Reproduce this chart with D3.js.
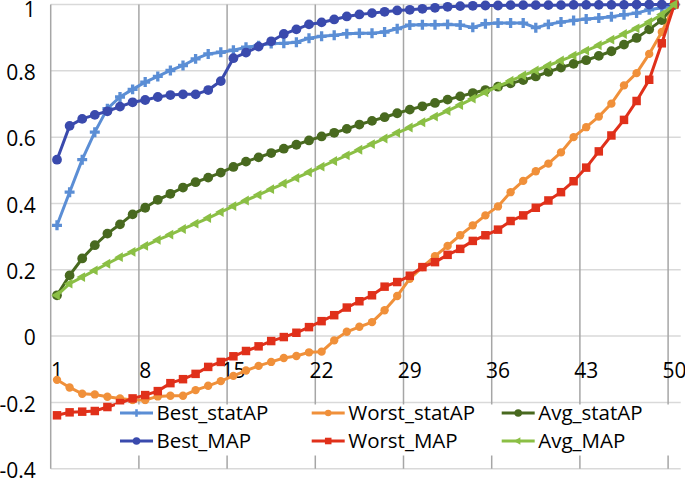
<!DOCTYPE html>
<html>
<head>
<meta charset="utf-8">
<script src="https://cdn.jsdelivr.net/npm/d3@7"></script>
<style>
  body { margin: 0; background: #fff; }
  svg { display: block; }
  text { font-family: 'Open Sans', sans-serif; fill: #000; }
</style>
</head>
<body>
<div id="chart"></div>
<script>
const width = 685;
const height = 478;

// categories 1..50, labelled every 7th
const categories = d3.range(1, 51);
const xTickLabels = [1, 8, 15, 22, 29, 36, 43, 50];
const yTickLabels = [-0.4, -0.2, 0, 0.2, 0.4, 0.6, 0.8, 1];

// values
const bestStatAP = [0.334, 0.434, 0.532, 0.615, 0.686, 0.721, 0.744, 0.766, 0.783, 0.801,
  0.816, 0.836, 0.851, 0.856, 0.862, 0.871, 0.876, 0.882, 0.883, 0.886,
  0.898, 0.904, 0.907, 0.912, 0.913, 0.913, 0.917, 0.927, 0.938, 0.939,
  0.939, 0.940, 0.938, 0.931, 0.942, 0.944, 0.944, 0.944, 0.930, 0.940,
  0.947, 0.952, 0.956, 0.959, 0.963, 0.969, 0.974, 0.984, 0.990, 1.0];
const bestMAP = [0.532, 0.634, 0.655, 0.667, 0.678, 0.692, 0.705, 0.712, 0.721, 0.727,
  0.729, 0.729, 0.742, 0.769, 0.838, 0.855, 0.873, 0.889, 0.911, 0.925,
  0.940, 0.946, 0.955, 0.964, 0.970, 0.974, 0.978, 0.982, 0.984, 0.987,
  0.990, 0.993, 0.995, 0.996, 0.997, 0.997, 0.998, 0.998, 0.998, 0.998,
  0.998, 0.999, 0.999, 0.999, 0.999, 0.999, 1.0, 1.0, 1.0, 1.0];
const worstStatAP = [-0.132, -0.155, -0.174, -0.176, -0.183, -0.188, -0.193, -0.193, -0.182, -0.180,
  -0.180, -0.163, -0.150, -0.136, -0.120, -0.104, -0.090, -0.078, -0.066, -0.060,
  -0.049, -0.047, -0.013, 0.013, 0.028, 0.042, 0.078, 0.121, 0.173, 0.208,
  0.241, 0.272, 0.304, 0.334, 0.364, 0.391, 0.434, 0.468, 0.497, 0.520,
  0.554, 0.600, 0.630, 0.662, 0.701, 0.756, 0.793, 0.851, 0.917, 1.0];
const worstMAP = [-0.239, -0.230, -0.228, -0.226, -0.214, -0.202, -0.188, -0.178, -0.166, -0.142,
  -0.130, -0.114, -0.093, -0.078, -0.061, -0.045, -0.031, -0.015, -0.003, 0.010,
  0.027, 0.045, 0.063, 0.086, 0.105, 0.123, 0.149, 0.163, 0.182, 0.208,
  0.223, 0.245, 0.263, 0.287, 0.304, 0.321, 0.347, 0.364, 0.387, 0.409,
  0.434, 0.467, 0.508, 0.557, 0.605, 0.652, 0.709, 0.773, 0.883, 1.0];
const avgStatAP = [0.123, 0.183, 0.234, 0.274, 0.309, 0.337, 0.367, 0.387, 0.411, 0.429,
  0.448, 0.464, 0.478, 0.493, 0.510, 0.526, 0.539, 0.552, 0.565, 0.577,
  0.590, 0.602, 0.613, 0.625, 0.638, 0.649, 0.660, 0.672, 0.683, 0.693,
  0.703, 0.713, 0.723, 0.733, 0.742, 0.752, 0.762, 0.772, 0.783, 0.797,
  0.810, 0.821, 0.832, 0.845, 0.859, 0.879, 0.899, 0.925, 0.953, 1.0];
const avgMAP = [0.123, 0.158, 0.178, 0.198, 0.218, 0.238, 0.254, 0.272, 0.290, 0.306,
  0.323, 0.339, 0.356, 0.374, 0.392, 0.409, 0.426, 0.443, 0.460, 0.477,
  0.494, 0.511, 0.528, 0.545, 0.562, 0.579, 0.596, 0.613, 0.629, 0.645,
  0.662, 0.679, 0.697, 0.716, 0.735, 0.753, 0.770, 0.786, 0.801, 0.816,
  0.831, 0.846, 0.861, 0.877, 0.894, 0.911, 0.928, 0.947, 0.970, 1.0];

const series = [
  {title: 'Best_statAP', values: bestStatAP, color: '#5b8ed5', symbol: d3.symbolCross, size: 55},
  {title: 'Worst_statAP', values: worstStatAP, color: '#f0903a', symbol: d3.symbolCircle, size: 55},
  {title: 'Avg_statAP', values: avgStatAP, color: '#48691f', symbol: d3.symbolCircle, size: 75},
  {title: 'Best_MAP', values: bestMAP, color: '#3a4aad', symbol: d3.symbolCircle, size: 75},
  {title: 'Worst_MAP', values: worstMAP, color: '#e0301a', symbol: d3.symbolSquare, size: 72},
  {title: 'Avg_MAP', values: avgMAP, color: '#8bbf45', symbol: d3.symbolTriangle, size: 42, rotate: -90}
];

const x = d3.scaleBand()
  .domain(categories)
  .range([50.7, 680.7]);

const y = d3.scaleLinear()
  .domain([-0.4, 1])
  .range([468.7, 4.5]);

const cx = c => x(c) + x.bandwidth() / 2;

const svg = d3.select('#chart').append('svg')
  .attr('width', width)
  .attr('height', height);

// horizontal gridlines
svg.append('g').selectAll('line')
  .data(yTickLabels)
  .join('line')
    .attr('x1', x.range()[0])
    .attr('x2', x.range()[1])
    .attr('y1', d => y(d))
    .attr('y2', d => y(d))
    .attr('stroke', '#d9d9d9')
    .attr('stroke-width', 1.5);

// vertical gridlines on category boundaries
svg.append('g').selectAll('line')
  .data(xTickLabels)
  .join('line')
    .attr('x1', d => x(d))
    .attr('x2', d => x(d))
    .attr('y1', y(1))
    .attr('y2', y(-0.4))
    .attr('stroke', '#a6a6a6')
    .attr('stroke-width', 1.5);

const yAxis = svg.append('g')
  .attr('transform', `translate(${x.range()[0]},0)`)
  .call(d3.axisLeft(y).tickValues(yTickLabels).tickSize(0).tickPadding(15).tickFormat(d => String(d)));
yAxis.select('.domain').remove();
// labels sit a little below their gridline; the top one is pushed inside the frame
yAxis.selectAll('text')
  .style('font-size', '21px')
  .style('font-family', null)
  .attr('dy', d => d === 1 ? '0.58em' : '0.42em');

const xAxis = svg.append('g')
  .attr('transform', `translate(0,${y(0)})`)
  .call(d3.axisBottom(x).tickValues(xTickLabels).tickSize(0).tickPadding(27));
xAxis.select('.domain').remove();
xAxis.selectAll('text').style('font-size', '21px').style('font-family', null);

const line = d3.line()
  .x((d, i) => cx(categories[i]))
  .y(d => y(d));

const groups = svg.append('g').selectAll('.chart-group')
  .data(series)
  .join('g')
    .classed('chart-group', true);

groups.append('path')
  .attr('d', s => line(s.values))
  .attr('fill', 'none')
  .attr('stroke', s => s.color)
  .attr('stroke-width', 3);

groups.each(function (s) {
  d3.select(this).selectAll('path.chart-dot')
    .data(s.values)
    .join('path')
      .attr('class', 'chart-dot')
      .attr('d', d3.symbol().type(s.symbol).size(s.size))
      .attr('transform', (d, i) => `translate(${cx(categories[i])},${y(d)}) rotate(${s.rotate || 0})`)
      .attr('fill', s.color);
});

// legend, 3 columns x 2 rows, white box over the plot
const legend = svg.append('g');
legend.append('rect')
  .attr('x', 115)
  .attr('y', 404.5)
  .attr('width', 557)
  .attr('height', 51)
  .attr('fill', '#fff');

const legendCols = [120, 311.7, 501.7];
const legendRows = [413, 441];

const item = legend.selectAll('.legend-item')
  .data(series)
  .join('g')
    .classed('legend-item', true)
    .attr('transform', (s, i) => `translate(${legendCols[i % 3]},${legendRows[Math.floor(i / 3)]})`);

item.append('line')
  .attr('x1', 0)
  .attr('x2', 33)
  .attr('stroke', s => s.color)
  .attr('stroke-width', 3);

item.append('path')
  .attr('d', s => d3.symbol().type(s.symbol).size(s.size * 0.6)())
  .attr('transform', s => `translate(16.5,0) rotate(${s.rotate || 0})`)
  .attr('fill', s => s.color);

item.append('text')
  .attr('x', 36.5)
  .attr('dy', '0.36em')
  .style('font-size', '20.5px')
  .text(s => s.title);
</script>
</body>
</html>
